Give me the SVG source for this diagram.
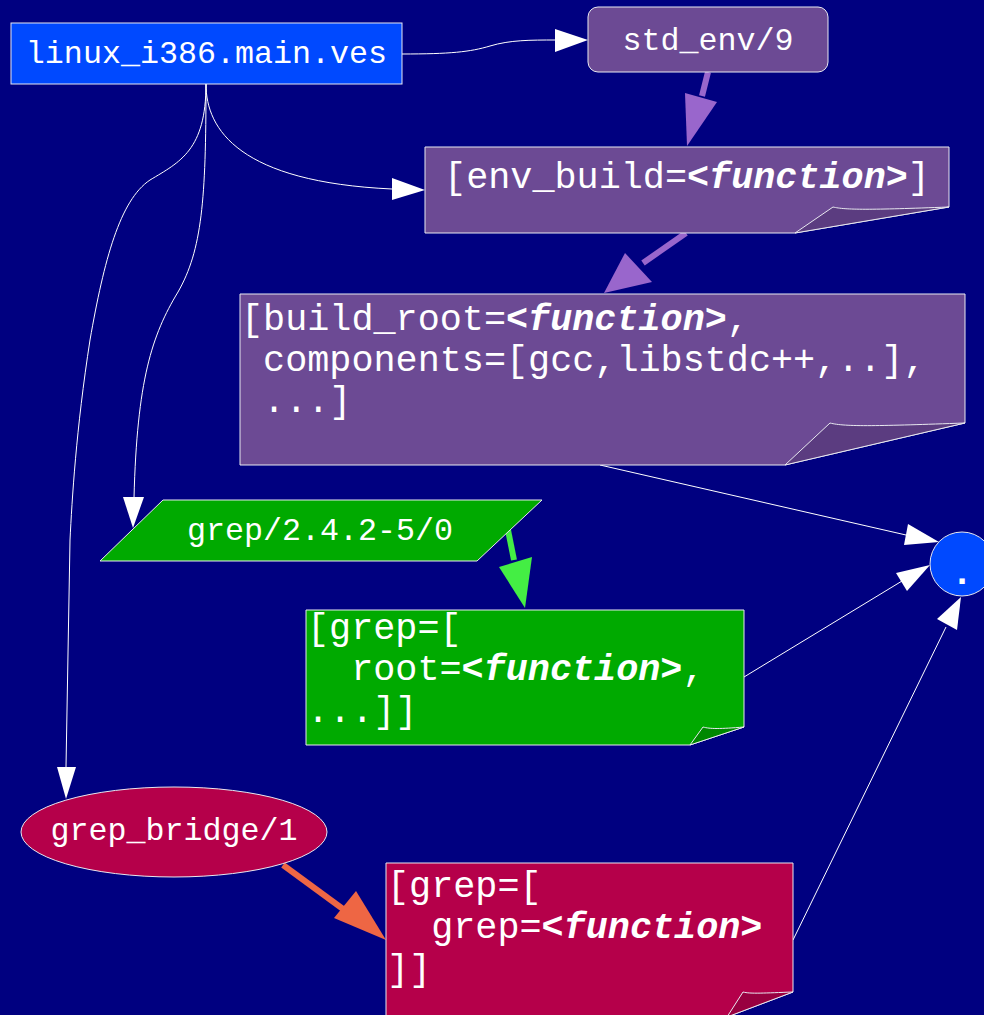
<svg xmlns="http://www.w3.org/2000/svg" width="984" height="1015" viewBox="0 0 984 1015">
<style>
.n{stroke:#e8e8f0;stroke-width:1}
.t{font-family:"Liberation Mono","DejaVu Sans Mono",monospace;fill:#ffffff}
.s{font-size:31.7px}
.r{font-size:36.8px}
.f{font-weight:bold;font-style:italic}
.e{fill:none;stroke:#ffffff;stroke-width:1}
.ah{fill:#ffffff;stroke:none}
</style>
<rect width="984" height="1015" fill="#000080"/>
<g id="connectors">
  <path class="e" d="M402,54 C450,54 470,52 490,46 C510,40 530,40 556,40"/>
  <polygon class="ah" points="555,29 588,40 555,52"/>
  <path d="M708,72 L702,96" fill="none" stroke="#9966cc" stroke-width="6"/>
  <polygon points="685,93 717,102 687,146" fill="#9966cc"/>
  <path d="M686,233 L643,263" fill="none" stroke="#9966cc" stroke-width="6"/>
  <polygon points="625,253 652,282 604,293" fill="#9966cc"/>
  <path class="e" d="M206,84 C206,130 240,182 392,189"/>
  <polygon class="ah" points="392,178 425,190 392,200"/>
  <path class="e" d="M206,84 C206,200 202,250 178,292 C152,335 137,380 134,498"/>
  <polygon class="ah" points="123,497 133,528 144,497"/>
  <path class="e" d="M206,84 C206,150 180,162 150,180 C120,200 104,260 90,340 C76,430 72,500 70,540 L66,767"/>
  <polygon class="ah" points="57,767 66,799 76,767"/>
  <path class="e" d="M600,465 L906,535"/>
  <polygon class="ah" points="908,524 939,542 904,545"/>
  <path class="e" d="M744,677 L902,581"/>
  <polygon class="ah" points="896,573 930,565 907,591"/>
  <path class="e" d="M793,940 L946,627"/>
  <polygon class="ah" points="937,619 961,597 957,630"/>
  <path d="M283,865 L343,909" fill="none" stroke="#ee6644" stroke-width="6"/>
  <polygon points="334,918 356,891 386,940" fill="#ee6644"/>
  <path d="M508,530 L514,560" fill="none" stroke="#44ee44" stroke-width="6"/>
  <polygon points="499,567 532,557 525,608" fill="#44ee44"/>
</g>
<g id="node-main">
  <rect class="n" x="11" y="23" width="391" height="61" fill="#0049ff"/>
  <text class="t s" x="206.5" y="63" text-anchor="middle">linux_i386.main.ves</text>
</g>
<g id="node-std_env">
  <rect class="n" x="588" y="7" width="240" height="65" rx="10" fill="#6c4a94"/>
  <text class="t s" x="708" y="50" text-anchor="middle">std_env/9</text>
</g>
<g id="node-env_build">
  <path class="n" d="M425,147 H949 V207 L795,233 H425 Z" fill="#6c4a94"/>
  <path class="n" d="M795,233 L833,207 C845,210 870,210 949,207 Z" fill="#5b3c80"/>
  <text class="t r" x="687" y="188" text-anchor="middle">[env_build=<tspan class="f">&lt;function&gt;</tspan>]</text>
</g>
<g id="node-build_root">
  <path class="n" d="M240,294 H965 V423 L785,465 H240 Z" fill="#6c4a94"/>
  <path class="n" d="M785,465 L830,423 C845,427 880,426 965,423 Z" fill="#5b3c80"/>
  <text class="t r" xml:space="preserve"><tspan x="241" y="330">[build_root=<tspan class="f">&lt;function&gt;</tspan>,</tspan><tspan x="241" y="371"> components=[gcc,libstdc++,..],</tspan><tspan x="241" y="412"> ...]</tspan></text>
</g>
<g id="node-grep">
  <polygon class="n" points="163,500 542,500 477,561 100,561" fill="#00aa00"/>
  <text class="t s" x="320" y="540" text-anchor="middle">grep/2.4.2-5/0</text>
</g>
<g id="node-grep_rec">
  <path class="n" d="M306,610 H744 V727 L690,745 H306 Z" fill="#00aa00"/>
  <path class="n" d="M690,745 L703,727 C710,729 720,729 744,727 Z" fill="#008800"/>
  <text class="t r" xml:space="preserve"><tspan x="307" y="639">[grep=[</tspan><tspan x="307" y="680">  root=<tspan class="f">&lt;function&gt;</tspan>,</tspan><tspan x="307" y="722">...]]</tspan></text>
</g>
<g id="node-grep_bridge">
  <ellipse class="n" cx="174" cy="832" rx="153" ry="45" fill="#b5004a"/>
  <text class="t s" x="174" y="840" text-anchor="middle">grep_bridge/1</text>
</g>
<g id="node-grep_bridge_rec">
  <path class="n" d="M386,863 H793 V992 L727,1017 H386 Z" fill="#b5004a"/>
  <path class="n" d="M727,1017 L743,992 C750,994 765,993 793,992 Z" fill="#990040"/>
  <text class="t r" xml:space="preserve"><tspan x="387" y="897">[grep=[</tspan><tspan x="387" y="938">  grep=<tspan class="f">&lt;function&gt;</tspan></tspan><tspan x="387" y="980">]]</tspan></text>
</g>
<g id="node-dot">
  <circle class="n" cx="962" cy="564" r="32" fill="#0049ff"/>
  <text class="t r" x="962" y="584" text-anchor="middle" font-weight="bold">.</text>
</g>
</svg>
